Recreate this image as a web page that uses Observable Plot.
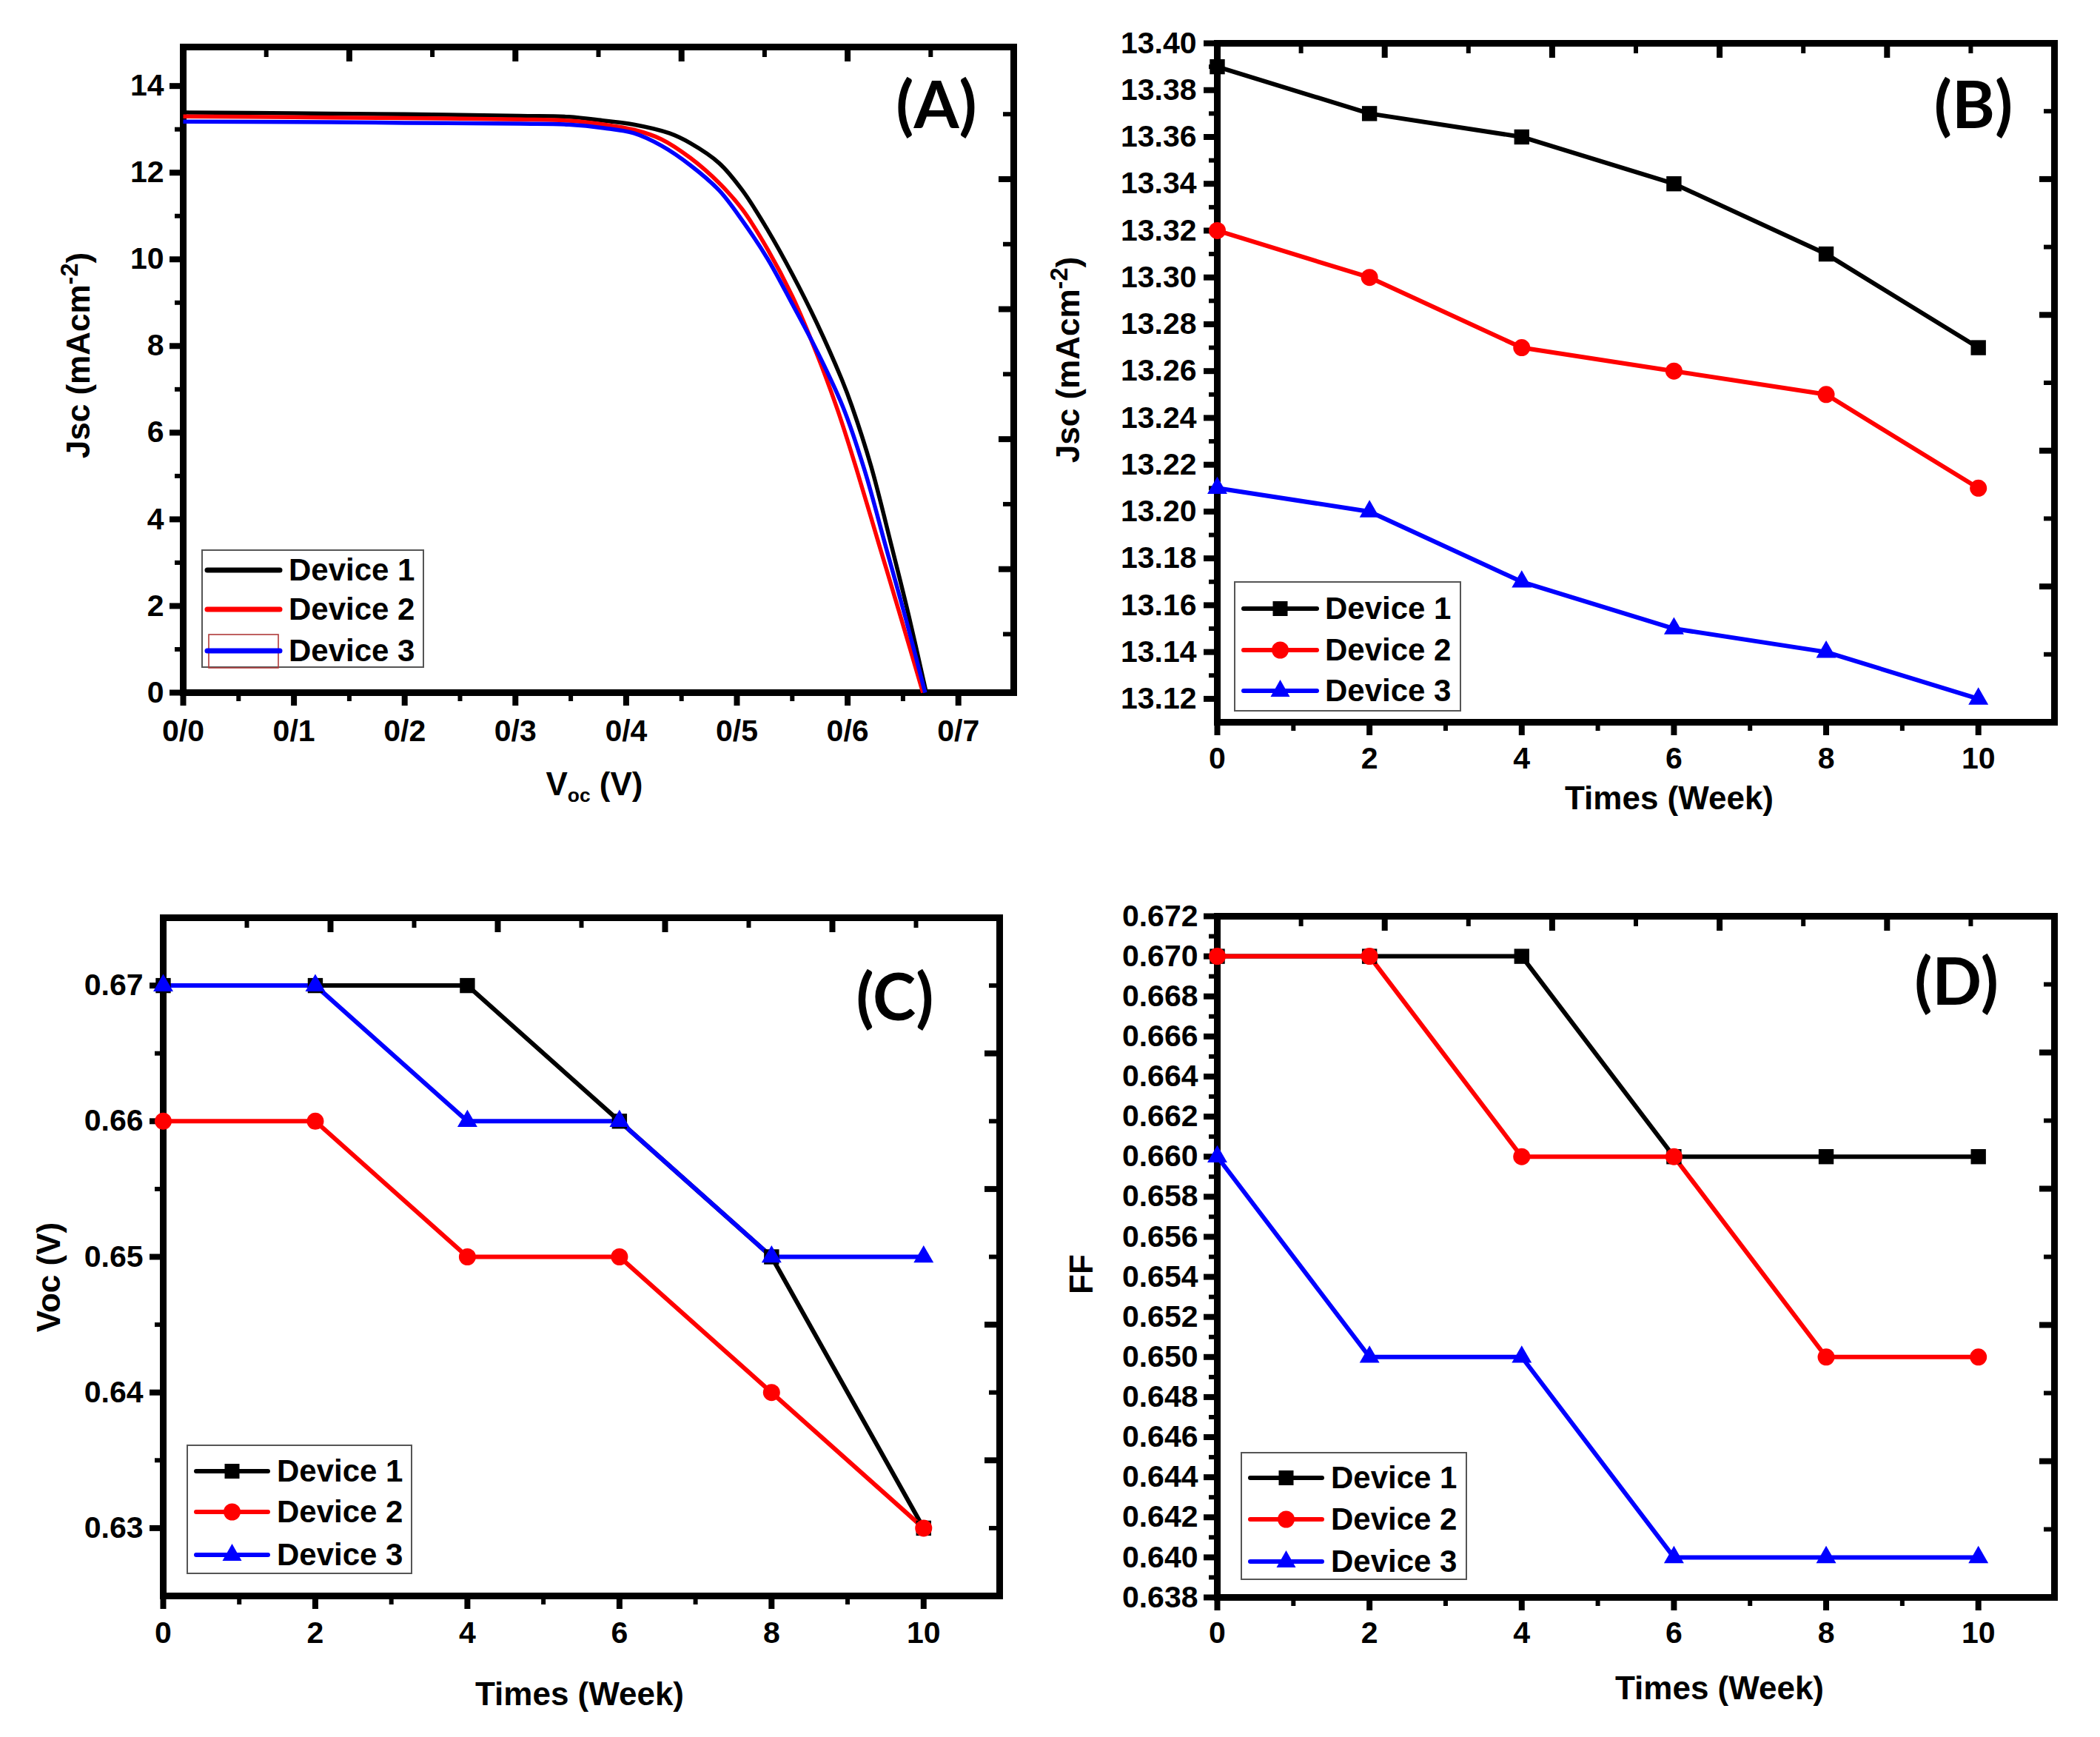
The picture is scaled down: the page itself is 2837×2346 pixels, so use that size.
<!DOCTYPE html>
<html>
<head>
<meta charset="utf-8">
<script src="https://cdn.jsdelivr.net/npm/d3@7"></script>
<script src="https://cdn.jsdelivr.net/npm/@observablehq/plot@0.6"></script>
<style>
html, body { margin: 0; padding: 0; background: #fff; }
#page { position: relative; width: 2837px; height: 2346px; background: #fff; overflow: hidden;
  font-family: "Liberation Sans", Arial, Helvetica, sans-serif; font-weight: bold; color: #000; }
.panel { position: absolute; }
.title { position: absolute; white-space: nowrap; line-height: 1; font-size: 44px; font-weight: bold;
  transform: translate(-50%, -50%); }
.title.rot { transform: translate(-50%, -50%) rotate(-90deg); }
.title sup { font-size: 0.74em; vertical-align: 0.5em; line-height: 0; }
.title sub { font-size: 0.6em; vertical-align: -0.35em; line-height: 0; }
.plab { position: absolute; font-family: Lato, "Open Sans", sans-serif; font-weight: 700; font-size: 88px;
  line-height: 1; transform: translate(-50%, -50%); white-space: nowrap; }
.legend { position: absolute; border: 2px solid #555; background: #fff; box-sizing: border-box; }
.legend svg { position: absolute; left: -2px; top: -2px; overflow: visible; }
.legend .lt { position: absolute; font-size: 42px; line-height: 1; white-space: nowrap; transform: translateY(-50%); }
</style>
</head>
<body>
<div id="page"></div>
<script>
// ---------- shared series info ----------
const devices = ["Device 1", "Device 2", "Device 3"];
const deviceColors = ["#000000", "#ff0000", "#0000ff"];
const deviceSymbols = ["square", "circle", "triangle"];

// ---------- Panel A : J-V curves ----------
const jvVoltage1 = [0, 0.10, 0.20, 0.304, 0.348, 0.380, 0.407, 0.439, 0.458, 0.484, 0.505, 0.528, 0.550, 0.572, 0.595, 0.604, 0.621, 0.640, 0.655, 0.671];
const jvCurrent1 = [13.39, 13.37, 13.35, 13.31, 13.29, 13.20, 13.11, 12.91, 12.68, 12.22, 11.59, 10.67, 9.66, 8.54, 7.21, 6.60, 5.24, 3.35, 1.80, 0];
const jvVoltage2 = [0, 0.10, 0.20, 0.304, 0.348, 0.380, 0.407, 0.432, 0.458, 0.484, 0.505, 0.528, 0.550, 0.572, 0.591, 0.608, 0.628, 0.648, 0.668];
const jvCurrent2 = [13.30, 13.28, 13.26, 13.23, 13.20, 13.11, 12.99, 12.77, 12.34, 11.76, 11.15, 10.22, 9.15, 7.83, 6.52, 5.16, 3.45, 1.74, 0];
const jvVoltage3 = [0, 0.10, 0.20, 0.304, 0.348, 0.380, 0.407, 0.432, 0.458, 0.484, 0.505, 0.528, 0.550, 0.572, 0.596, 0.615, 0.635, 0.653, 0.670];
const jvCurrent3 = [13.18, 13.17, 13.15, 13.13, 13.11, 13.03, 12.91, 12.62, 12.17, 11.59, 10.89, 10.00, 8.97, 7.90, 6.58, 5.16, 3.32, 1.66, 0];

const aXTicks = [0, 0.1, 0.2, 0.3, 0.4, 0.5, 0.6, 0.7];
const aXTickLabels = ["0/0", "0/1", "0/2", "0/3", "0/4", "0/5", "0/6", "0/7"];
const aXMinor = [0.05, 0.15, 0.25, 0.35, 0.45, 0.55, 0.65];
const aYTicks = [0, 2, 4, 6, 8, 10, 12, 14];
const aYTickLabels = ["0", "2", "4", "6", "8", "10", "12", "14"];
const aYMinor = [1, 3, 5, 7, 9, 11, 13];
const aTopMajor = [0.15, 0.30, 0.45, 0.60];
const aTopMinor = [0.075, 0.225, 0.375, 0.525, 0.675];
const aRightMajor = [2.85, 5.85, 8.85, 11.85];
const aRightMinor = [1.35, 4.35, 7.35, 10.35, 13.35];

// ---------- Panels B, C, D : weekly stability ----------
const weeks = [0, 2, 4, 6, 8, 10];
const jscDevice1 = [13.39, 13.37, 13.36, 13.34, 13.31, 13.27];
const jscDevice2 = [13.32, 13.30, 13.27, 13.26, 13.25, 13.21];
const jscDevice3 = [13.21, 13.20, 13.17, 13.15, 13.14, 13.12];
const vocDevice1 = [0.67, 0.67, 0.67, 0.66, 0.65, 0.63];
const vocDevice2 = [0.66, 0.66, 0.65, 0.65, 0.64, 0.63];
const vocDevice3 = [0.67, 0.67, 0.66, 0.66, 0.65, 0.65];
const ffDevice1 = [0.670, 0.670, 0.670, 0.660, 0.660, 0.660];
const ffDevice2 = [0.670, 0.670, 0.660, 0.660, 0.650, 0.650];
const ffDevice3 = [0.660, 0.650, 0.650, 0.640, 0.640, 0.640];

const weekTicks = [0, 2, 4, 6, 8, 10];
const weekTickLabels = ["0", "2", "4", "6", "8", "10"];
const weekMinor = [1, 3, 5, 7, 9];
const weekTopMajor = [2.2, 4.4, 6.6, 8.8];
const weekTopMinor = [1.1, 3.3, 5.5, 7.7, 9.9];

const bYTicks = [13.12, 13.14, 13.16, 13.18, 13.20, 13.22, 13.24, 13.26, 13.28, 13.30, 13.32, 13.34, 13.36, 13.38, 13.40];
const bYTickLabels = ["13.12", "13.14", "13.16", "13.18", "13.20", "13.22", "13.24", "13.26", "13.28", "13.30", "13.32", "13.34", "13.36", "13.38", "13.40"];
const bYMinor = [13.13, 13.15, 13.17, 13.19, 13.21, 13.23, 13.25, 13.27, 13.29, 13.31, 13.33, 13.35, 13.37, 13.39];
const bRightMajor = [13.168, 13.226, 13.284, 13.342];
const bRightMinor = [13.139, 13.197, 13.255, 13.313, 13.371];

const cYTicks = [0.63, 0.64, 0.65, 0.66, 0.67];
const cYTickLabels = ["0.63", "0.64", "0.65", "0.66", "0.67"];
const cYMinor = [0.635, 0.645, 0.655, 0.665];
const cRightMajor = [0.635, 0.645, 0.655, 0.665];
const cRightMinor = [0.630, 0.640, 0.650, 0.660, 0.670];

const dYTicks = [0.638, 0.640, 0.642, 0.644, 0.646, 0.648, 0.650, 0.652, 0.654, 0.656, 0.658, 0.660, 0.662, 0.664, 0.666, 0.668, 0.670, 0.672];
const dYTickLabels = ["0.638", "0.640", "0.642", "0.644", "0.646", "0.648", "0.650", "0.652", "0.654", "0.656", "0.658", "0.660", "0.662", "0.664", "0.666", "0.668", "0.670", "0.672"];
const dYMinor = [0.639, 0.641, 0.643, 0.645, 0.647, 0.649, 0.651, 0.653, 0.655, 0.657, 0.659, 0.661, 0.663, 0.665, 0.667, 0.669, 0.671];
const dRightMajor = [0.6448, 0.6516, 0.6584, 0.6652];
const dRightMinor = [0.6414, 0.6482, 0.6550, 0.6618, 0.6686];

// ---------- helpers ----------
const FONT = '"Liberation Sans", Arial, Helvetica, sans-serif';
const page = document.getElementById("page");

function seriesRows(xs, ysList, xKey, yKey) {
  const rows = [];
  ysList.forEach((ys, k) => {
    const xv = Array.isArray(xs[0]) ? xs[k] : xs;
    ys.forEach((y, i) => rows.push({device: devices[k], [xKey]: xv[i], [yKey]: y}));
  });
  return rows;
}

function buildPanel(cfg) {
  const {left, top, width, height, mt, mr, mb, ml} = cfg;
  const innerW = width - ml - mr, innerH = height - mt - mb;
  const xFmt = new Map(cfg.xTicks.map((v, i) => [v, cfg.xTickLabels[i]]));
  const yFmt = new Map(cfg.yTicks.map((v, i) => [v, cfg.yTickLabels[i]]));
  const blank = () => "";
  const marks = [
    // outward ticks: bottom and left
    Plot.axisX({ticks: cfg.xMinor, anchor: "bottom", tickSize: 12, strokeWidth: 6, tickFormat: blank, label: null}),
    Plot.axisX({ticks: cfg.xTicks, anchor: "bottom", tickSize: 18, strokeWidth: 8, tickFormat: blank, label: null}),
    Plot.axisX({ticks: cfg.xTicks, anchor: "bottom", tickSize: 0, tickPadding: cfg.xPad, tickFormat: d => xFmt.get(d),
      fontSize: 41, fontWeight: "bold", fontFamily: FONT, label: null}),
    Plot.axisY({ticks: cfg.yMinor, anchor: "left", tickSize: 11, strokeWidth: 6, tickFormat: blank, label: null}),
    Plot.axisY({ticks: cfg.yTicks, anchor: "left", tickSize: 18, strokeWidth: 8, tickFormat: blank, label: null}),
    Plot.axisY({ticks: cfg.yTicks, anchor: "left", tickSize: 0, tickPadding: cfg.yPad, tickFormat: d => yFmt.get(d),
      fontSize: 41, fontWeight: "bold", fontFamily: FONT, label: null}),
    // inward ticks: top and right
    Plot.tickX(cfg.topMajor, {x: d => d, insetBottom: innerH - 20, stroke: "black", strokeWidth: 8}),
    Plot.tickX(cfg.topMinor, {x: d => d, insetBottom: innerH - 14, stroke: "black", strokeWidth: 6}),
    Plot.tickY(cfg.rightMajor, {y: d => d, insetLeft: innerW - 20, stroke: "black", strokeWidth: 8}),
    Plot.tickY(cfg.rightMinor, {y: d => d, insetLeft: innerW - 14, stroke: "black", strokeWidth: 6}),
    Plot.frame({stroke: "black", strokeWidth: 9}),
    Plot.line(cfg.rows, {x: cfg.xKey, y: cfg.yKey, z: "device", stroke: "device", strokeWidth: cfg.lineWidth,
      curve: cfg.curve || "linear", strokeLinejoin: "round", strokeLinecap: "butt"})
  ];
  if (cfg.markers) {
    const sizes = [11.5, 11.5, 10];
    devices.forEach((dv, k) => {
      marks.push(Plot.dot(cfg.rows.filter(r => r.device === dv),
        {x: cfg.xKey, y: cfg.yKey, fill: "device", symbol: "device", r: sizes[k], stroke: "none"}));
    });
  }
  const svg = Plot.plot({
    width, height, marginTop: mt, marginRight: mr, marginBottom: mb, marginLeft: ml,
    x: {domain: cfg.xDomain, label: null},
    y: {domain: cfg.yDomain, label: null},
    color: {domain: devices, range: deviceColors},
    symbol: {domain: devices, range: deviceSymbols},
    style: {fontFamily: FONT, fontWeight: "bold", fontSize: "41px", color: "black", background: "transparent", overflow: "visible"},
    marks
  });
  const div = document.createElement("div");
  div.className = "panel";
  div.style.left = left + "px";
  div.style.top = top + "px";
  div.style.width = width + "px";
  div.style.height = height + "px";
  div.appendChild(svg);
  page.appendChild(div);
}

function addTitle(html, x, y, rotate) {
  const d = document.createElement("div");
  d.className = "title" + (rotate ? " rot" : "");
  d.style.left = x + "px";
  d.style.top = y + "px";
  d.innerHTML = html;
  page.appendChild(d);
}

function addPanelLabel(text, x, y) {
  const d = document.createElement("div");
  d.className = "plab";
  d.style.left = x + "px";
  d.style.top = (y - 9) + "px";
  d.textContent = text;
  page.appendChild(d);
}

const NS = "http://www.w3.org/2000/svg";
function addLegend(box, rowYs, sw, textX, lineWidth, withMarkers, extraRect) {
  const d = document.createElement("div");
  d.className = "legend";
  d.style.left = box.left + "px";
  d.style.top = box.top + "px";
  d.style.width = box.w + "px";
  d.style.height = box.h + "px";
  const s = document.createElementNS(NS, "svg");
  s.setAttribute("width", box.w);
  s.setAttribute("height", box.h);
  if (extraRect) {
    const r = document.createElementNS(NS, "rect");
    r.setAttribute("x", extraRect.x); r.setAttribute("y", extraRect.y);
    r.setAttribute("width", extraRect.w); r.setAttribute("height", extraRect.h);
    r.setAttribute("fill", "none"); r.setAttribute("stroke", "#b03a3a"); r.setAttribute("stroke-width", 1.6);
    s.appendChild(r);
  }
  devices.forEach((dv, k) => {
    const y = rowYs[k];
    const ln = document.createElementNS(NS, "line");
    ln.setAttribute("x1", sw[0]); ln.setAttribute("x2", sw[1]);
    ln.setAttribute("y1", y); ln.setAttribute("y2", y);
    ln.setAttribute("stroke", deviceColors[k]); ln.setAttribute("stroke-width", lineWidth);
    ln.setAttribute("stroke-linecap", "round");
    s.appendChild(ln);
    if (withMarkers) {
      const cx = (sw[0] + sw[1]) / 2;
      let m;
      if (deviceSymbols[k] === "square") {
        m = document.createElementNS(NS, "rect");
        m.setAttribute("x", cx - 10); m.setAttribute("y", y - 10);
        m.setAttribute("width", 20); m.setAttribute("height", 20);
      } else if (deviceSymbols[k] === "circle") {
        m = document.createElementNS(NS, "circle");
        m.setAttribute("cx", cx); m.setAttribute("cy", y); m.setAttribute("r", 11.5);
      } else {
        m = document.createElementNS(NS, "path");
        m.setAttribute("d", `M${cx},${y - 15}L${cx + 13},${y + 8}L${cx - 13},${y + 8}Z`);
      }
      m.setAttribute("fill", deviceColors[k]);
      s.appendChild(m);
    }
  });
  d.appendChild(s);
  devices.forEach((dv, k) => {
    const t = document.createElement("div");
    t.className = "lt";
    t.style.left = (textX - 2) + "px";
    t.style.top = (rowYs[k] - 2) + "px";
    t.textContent = dv;
    d.appendChild(t);
  });
  page.appendChild(d);
}

// ---------- Panel A ----------
buildPanel({
  left: 0, top: 0, width: 1418, height: 1173, mt: 63, mr: 49, mb: 238, ml: 247,
  xDomain: [0, 0.75], yDomain: [0, 14.9],
  xTicks: aXTicks, xTickLabels: aXTickLabels, xMinor: aXMinor,
  yTicks: aYTicks, yTickLabels: aYTickLabels, yMinor: aYMinor,
  topMajor: aTopMajor, topMinor: aTopMinor, rightMajor: aRightMajor, rightMinor: aRightMinor,
  xPad: 36, yPad: 26,
  rows: seriesRows([jvVoltage1, jvVoltage2, jvVoltage3], [jvCurrent1, jvCurrent2, jvCurrent3], "v", "j"),
  xKey: "v", yKey: "j", lineWidth: 5.5, curve: "catmull-rom", markers: false
});

// ---------- Panel B ----------
buildPanel({
  left: 1418, top: 0, width: 1419, height: 1173, mt: 58, mr: 62, mb: 198, ml: 226,
  xDomain: [0, 11], yDomain: [13.11, 13.40],
  xTicks: weekTicks, xTickLabels: weekTickLabels, xMinor: weekMinor,
  yTicks: bYTicks, yTickLabels: bYTickLabels, yMinor: bYMinor,
  topMajor: weekTopMajor, topMinor: weekTopMinor, rightMajor: bRightMajor, rightMinor: bRightMinor,
  xPad: 33, yPad: 28,
  rows: seriesRows(weeks, [jscDevice1, jscDevice2, jscDevice3], "week", "jsc"),
  xKey: "week", yKey: "jsc", lineWidth: 6, markers: true
});

// ---------- Panel C ----------
buildPanel({
  left: 0, top: 1173, width: 1418, height: 1173, mt: 66, mr: 68, mb: 191, ml: 220,
  xDomain: [0, 11], yDomain: [0.625, 0.675],
  xTicks: weekTicks, xTickLabels: weekTickLabels, xMinor: weekMinor,
  yTicks: cYTicks, yTickLabels: cYTickLabels, yMinor: cYMinor,
  topMajor: weekTopMajor, topMinor: weekTopMinor, rightMajor: cRightMajor, rightMinor: cRightMinor,
  xPad: 34, yPad: 27,
  rows: seriesRows(weeks, [vocDevice1, vocDevice2, vocDevice3], "week", "voc"),
  xKey: "week", yKey: "voc", lineWidth: 6, markers: true
});

// ---------- Panel D ----------
buildPanel({
  left: 1418, top: 1173, width: 1419, height: 1173, mt: 64, mr: 62, mb: 189, ml: 226,
  xDomain: [0, 11], yDomain: [0.638, 0.672],
  xTicks: weekTicks, xTickLabels: weekTickLabels, xMinor: weekMinor,
  yTicks: dYTicks, yTickLabels: dYTickLabels, yMinor: dYMinor,
  topMajor: weekTopMajor, topMinor: weekTopMinor, rightMajor: dRightMajor, rightMinor: dRightMinor,
  xPad: 32, yPad: 26,
  rows: seriesRows(weeks, [ffDevice1, ffDevice2, ffDevice3], "week", "ff"),
  xKey: "week", yKey: "ff", lineWidth: 6, markers: true
});

// ---------- axis titles ----------
addTitle("Jsc (mAcm<sup>-2</sup>)", 106, 480, true);
addTitle("V<sub>oc</sub> (V)", 803, 1059, false);
addTitle("Jsc (mAcm<sup>-2</sup>)", 1443, 486, true);
addTitle("Times (Week)", 2255, 1078, false);
addTitle("Voc (V)", 66, 1725, true);
addTitle("Times (Week)", 783, 2288, false);
addTitle("FF", 1461, 1721, true);
addTitle("Times (Week)", 2323, 2280, false);

// ---------- panel labels ----------
addPanelLabel("(A)", 1265, 148);
addPanelLabel("(B)", 2666, 148);
addPanelLabel("(C)", 1209, 1353);
addPanelLabel("(D)", 2643, 1332);

// ---------- legends ----------
addLegend({left: 272, top: 742, w: 301, h: 160}, [28, 81, 137], [8, 106], 118, 7, false,
  {x: 10, y: 115, w: 94, h: 45});
addLegend({left: 1667, top: 785, w: 307, h: 176}, [37, 93, 148], [13, 112], 123, 6, true);
addLegend({left: 252, top: 1951, w: 305, h: 175}, [36, 91, 149], [13, 110], 122, 6, true);
addLegend({left: 1676, top: 1961, w: 306, h: 173}, [35, 91, 148], [13, 110], 122, 6, true);
</script>
</body>
</html>
